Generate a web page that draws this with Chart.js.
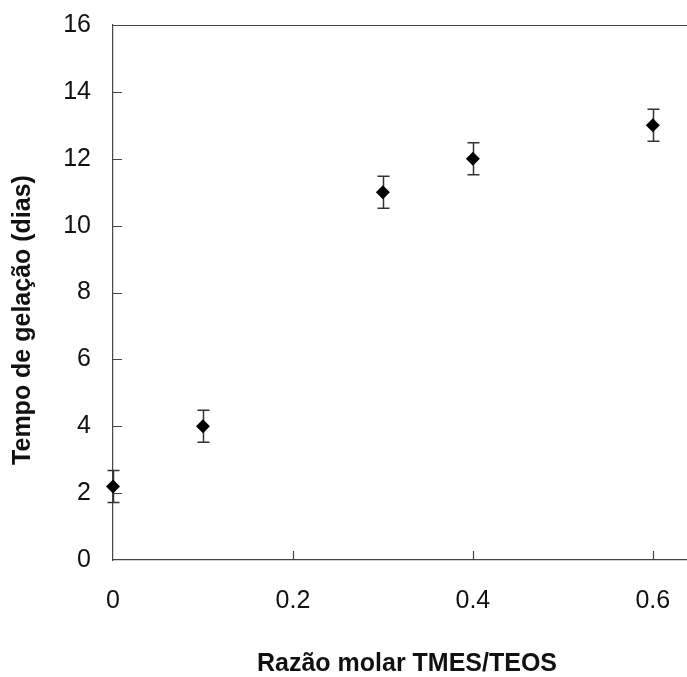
<!DOCTYPE html>
<html>
<head>
<meta charset="utf-8">
<script src="https://cdn.jsdelivr.net/npm/chart.js@4/dist/chart.umd.min.js"></script>
<style>
html,body{margin:0;padding:0;background:#fff;}
#wrap{width:687px;height:677px;position:relative;}
</style>
</head>
<body>
<div id="wrap"><canvas id="c" width="687" height="677"></canvas></div>
<script>
const ratioX = [0, 0.1, 0.3, 0.4, 0.6];
const gelTime = [2.2, 4.0, 11.0, 12.0, 13.0];
const gelErr = [0.48, 0.48, 0.48, 0.48, 0.48];
const xTicks = [0, 0.2, 0.4, 0.6];
const yTicks = [0, 2, 4, 6, 8, 10, 12, 14, 16];
const xTitle = 'Razão molar TMES/TEOS';
const yTitle = 'Tempo de gelação (dias)';

const axisColor = '#444';
const fontFamily = 'Liberation Sans, Arial, sans-serif';

const framePlugin = {
  id: 'frame',
  beforeDatasetsDraw(chart) {
    const {ctx, chartArea: a, scales: {x, y}} = chart;
    ctx.save();
    ctx.strokeStyle = axisColor;
    ctx.lineWidth = 1.2;
    ctx.beginPath();
    ctx.moveTo(a.left, a.top + 0.5);
    ctx.lineTo(a.right, a.top + 0.5);
    ctx.stroke();
    ctx.beginPath();
    yTicks.forEach(v => {
      if (v === yTicks[0] || v === yTicks[yTicks.length - 1]) return;
      const py = Math.round(y.getPixelForValue(v)) + 0.5;
      ctx.moveTo(a.left, py);
      ctx.lineTo(a.left + 9, py);
    });
    xTicks.forEach(v => {
      if (v === xTicks[0]) return;
      const px = Math.round(x.getPixelForValue(v)) + 0.5;
      ctx.moveTo(px, a.bottom);
      ctx.lineTo(px, a.bottom - 9);
    });
    ctx.stroke();
    ctx.strokeStyle = '#333';
    ctx.lineWidth = 1.5;
    ctx.beginPath();
    ratioX.forEach((xv, i) => {
      const px = Math.round(x.getPixelForValue(xv)) + 0.5;
      const top = y.getPixelForValue(gelTime[i] + gelErr[i]);
      const bot = y.getPixelForValue(gelTime[i] - gelErr[i]);
      ctx.moveTo(px, top); ctx.lineTo(px, bot);
      ctx.moveTo(px - 6, top); ctx.lineTo(px + 6, top);
      ctx.moveTo(px - 6, bot); ctx.lineTo(px + 6, bot);
    });
    ctx.stroke();
    ctx.restore();
  },
  afterDraw(chart) {
    const ctx = chart.ctx;
    ctx.save();
    ctx.fillStyle = '#111';
    ctx.font = 'bold 25px ' + fontFamily;
    ctx.textAlign = 'center';
    ctx.textBaseline = 'middle';
    ctx.fillText(xTitle, 407, 664);
    ctx.translate(23, 320);
    ctx.rotate(-Math.PI / 2);
    ctx.fillText(yTitle, 0, 0);
    ctx.restore();
  }
};

new Chart(document.getElementById('c'), {
  type: 'scatter',
  data: {
    datasets: [{
      data: ratioX.map((v, i) => ({x: v, y: gelTime[i]})),
      pointStyle: 'rectRot',
      pointRadius: 7,
      pointHoverRadius: 7,
      backgroundColor: '#000',
      borderColor: '#000',
      borderWidth: 0,
      clip: false
    }]
  },
  options: {
    responsive: false,
    animation: false,
    events: [],
    layout: {autoPadding: false, padding: {left: 0, right: 0, top: 25, bottom: 0}},
    plugins: {legend: {display: false}, tooltip: {enabled: false}},
    scales: {
      x: {
        type: 'linear',
        min: 0, max: 0.638,
        afterBuildTicks(s) { s.ticks = xTicks.map(v => ({value: v})); },
        afterFit(s) { s.height = 117; s.paddingLeft = 0; s.paddingRight = 0; },
        grid: {display: false, drawTicks: false},
        border: {display: true, color: axisColor, width: 1.2},
        ticks: {
          padding: 26,
          color: '#111',
          font: {family: fontFamily, size: 25},
          callback: v => String(v)
        },
        title: {display: false, text: xTitle}
      },
      y: {
        type: 'linear',
        min: 0, max: 16,
        afterBuildTicks(s) { s.ticks = yTicks.map(v => ({value: v})); },
        afterFit(s) { s.width = 113; s.paddingTop = 0; s.paddingBottom = 0; },
        grid: {display: false, drawTicks: false},
        border: {display: true, color: axisColor, width: 1.2},
        ticks: {
          padding: 22,
          color: '#111',
          font: {family: fontFamily, size: 25}
        },
        title: {display: false, text: yTitle}
      }
    }
  },
  plugins: [framePlugin]
});
</script>
</body>
</html>
